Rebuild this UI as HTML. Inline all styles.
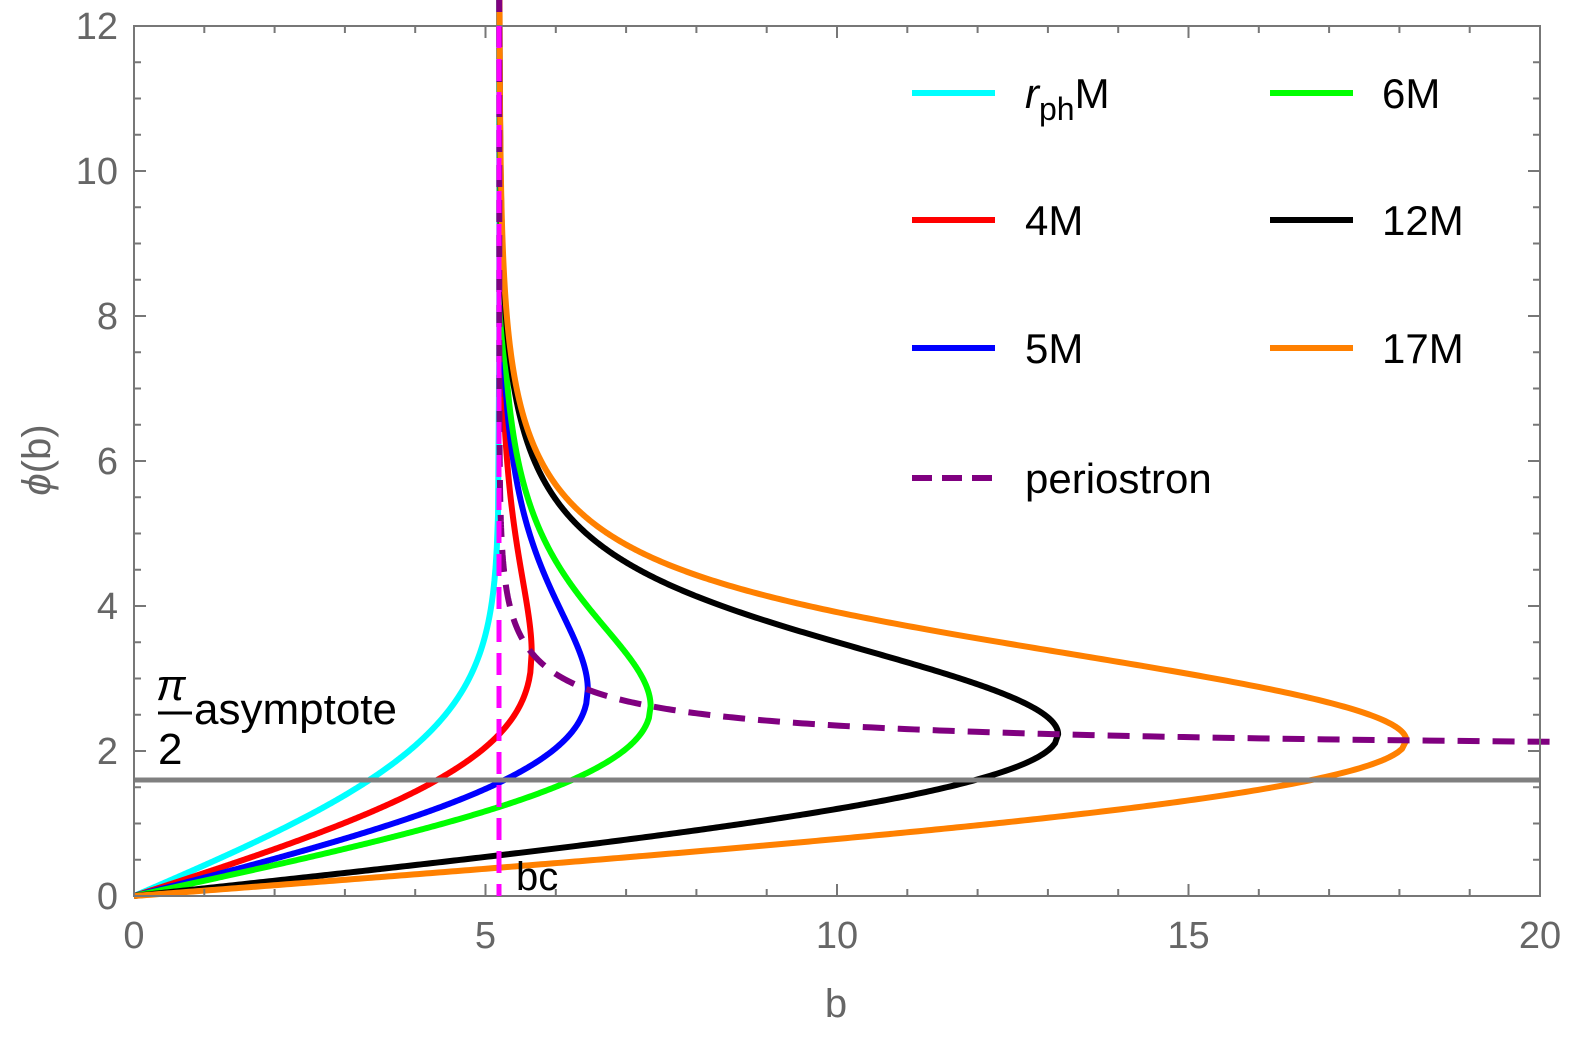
<!DOCTYPE html>
<html><head><meta charset="utf-8"><style>
html,body{margin:0;padding:0;background:#fff;}
svg{display:block;font-family:"Liberation Sans",sans-serif;}
</style></head><body>
<svg id="s" width="1578" height="1038" viewBox="0 0 1578 1038" xmlns="http://www.w3.org/2000/svg">
<rect width="1578" height="1038" fill="#fff"/>
<g id="curves"></g>
<line x1="134" y1="780" x2="1540" y2="780" stroke="#808080" stroke-width="5"/>
<g id="frame"></g>
<line x1="499" y1="26" x2="499" y2="896" stroke="#ff00ff" stroke-width="5" stroke-dasharray="22,11"/>
<g font-size="38" fill="#666" text-anchor="middle">
<text x="134" y="948">0</text><text x="485.5" y="948">5</text><text x="837" y="948">10</text><text x="1188.5" y="948">15</text><text x="1540" y="948">20</text>
</g>
<g font-size="38" fill="#666" text-anchor="end" id="ylab"></g>
<text x="836" y="1017" font-size="40" fill="#666" text-anchor="middle">b</text>
<text transform="translate(50,460) rotate(-90)" font-size="40" fill="#666" text-anchor="middle"><tspan font-style="italic">ϕ</tspan>(b)</text>
<g font-size="44" fill="#000">
<text x="156" y="700" font-style="italic">π</text>
<line x1="158" y1="713" x2="192" y2="713" stroke="#000" stroke-width="3"/>
<text x="158" y="764">2</text>
<text x="194" y="724">asymptote</text>
<text x="516" y="890" font-size="40">bc</text>
</g>
<g stroke-width="6" fill="none">
<line x1="912" y1="93" x2="995" y2="93" stroke="#00ffff"/>
<line x1="912" y1="220" x2="995" y2="220" stroke="#ff0000"/>
<line x1="912" y1="348" x2="995" y2="348" stroke="#0000ff"/>
<line x1="912" y1="478" x2="995" y2="478" stroke="#800080" stroke-dasharray="20,10"/>
<line x1="1270" y1="93" x2="1353" y2="93" stroke="#00ff00"/>
<line x1="1270" y1="220" x2="1353" y2="220" stroke="#000"/>
<line x1="1270" y1="348" x2="1353" y2="348" stroke="#ff8000"/>
</g>
<g font-size="42" fill="#000">
<text x="1025" y="108"><tspan font-style="italic">r</tspan><tspan font-size="32" dy="12">ph</tspan><tspan dy="-12">M</tspan></text>
<text x="1025" y="235">4M</text>
<text x="1025" y="363">5M</text>
<text x="1025" y="493">periostron</text>
<text x="1382" y="108">6M</text>
<text x="1382" y="235">12M</text>
<text x="1382" y="363">17M</text>
</g>
</svg>
<script>
var SC=1.26;
var X=function(b){return 134+b*70.3;}, Y=function(p){return 896-p*SC*72.5;};
var NS="http://www.w3.org/2000/svg";
function el(t,a,par){var e=document.createElementNS(NS,t);for(var k in a)e.setAttribute(k,a[k]);par.appendChild(e);return e;}
var fr=document.getElementById('frame');
var Yp=function(p){return 896-p*72.5;};
el('rect',{x:134,y:26,width:1406,height:870,fill:'none',stroke:'#777','stroke-width':2},fr);
for(var i=0;i<=20;i++){var L=(i%5==0)?12:7;var x=X(i);
el('line',{x1:x,y1:896,x2:x,y2:896-L,stroke:'#777','stroke-width':2},fr);
el('line',{x1:x,y1:26,x2:x,y2:26+L,stroke:'#777','stroke-width':2},fr);}
for(var i=0;i<=24;i++){var L=(i%4==0)?12:7;var y=Yp(i*0.5);
el('line',{x1:134,y1:y,x2:134+L,y2:y,stroke:'#777','stroke-width':2},fr);
el('line',{x1:1540,y1:y,x2:1540-L,y2:y,stroke:'#777','stroke-width':2},fr);}
var yl=document.getElementById('ylab');
for(var i=0;i<=12;i+=2){var t=el('text',{x:118,y:Yp(i)+13},yl);t.textContent=i;}
function I(ue,b){var N=300,s=0,ib=1/(b*b);
function g(t){var u=ue*(1-t*t);var f=ib-u*u+2*u*u*u;if(f<=1e-300){return 0;}return 2*ue*t/Math.sqrt(f);}
var h=1/N;
var fp=-2*ue+6*ue*ue; var f0=ib-ue*ue+2*ue*ue*ue;
var g0=0; if(Math.abs(f0)<1e-9) g0=2*ue/Math.sqrt(-fp*ue);
s=g0+g(1);
for(var k=1;k<N;k++){s+=(k%2?4:2)*g(k*h);}
return s*h/3;}
function bOf(u){return 1/(u*Math.sqrt(1-2*u));}
var cg=document.getElementById('curves');
function path(pts,col,dash){var d='';var started=false;
for(var i=0;i<pts.length;i++){var p=pts[i];if(p[1]*SC>12.5||p[0]>20.5||isNaN(p[1])){started=false;continue;}
d+=(started?'L':'M')+X(p[0]).toFixed(2)+' '+Y(p[1]).toFixed(2);started=true;}
var a={d:d,stroke:col,'stroke-width':6,fill:'none','stroke-linejoin':'round'};if(dash)a['stroke-dasharray']=dash;
el('path',a,cg);}
function curve(R,col){var uR=1/R,bm=bOf(uR);var pts=[[0,0]];
if(R==3){for(var i=1;i<=300;i++){var b=bm*i/300*0.9999;pts.push([b,I(uR,b)]);}
for(var k=1;k<=60;k++){var b=bm*(1-Math.pow(10,-4-k*0.2));pts.push([b,I(uR,b)]);}}
else{for(var i=1;i<=300;i++){var b=bm*i/300;pts.push([b,I(uR,b)]);}
var N=1500;
for(var k=1;k<=N;k++){var s=30*Math.pow(k/N,2);var e=(1/3-uR)*Math.exp(-s);var u=1/3-e;var b=bOf(u);
var ph=2*I(u,b)-I(uR,b);pts.push([b,ph]);if(ph*SC>13)break;}}
path(pts,col);}
curve(3,'#00ffff');curve(4,'#ff0000');curve(5,'#0000ff');curve(6,'#00ff00');curve(12,'#000000');curve(17,'#ff8000');
var pp=[];for(var k=1;k<=3000;k++){var u=1/3*(1-Math.exp(-k*0.005));var b=bOf(u);if(b>21)continue;pp.push([b,I(u,b)]);}
pp.reverse();path(pp,'#800080','22,13');
</script>
</body></html>
